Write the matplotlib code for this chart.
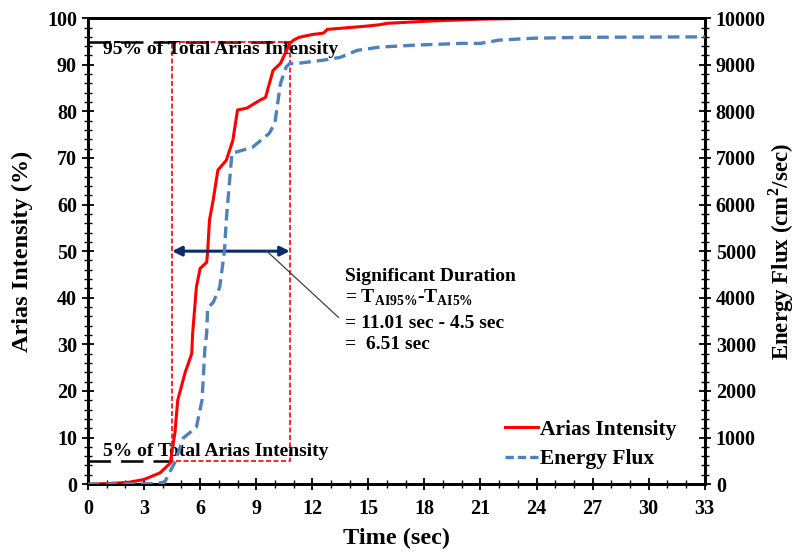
import numpy as np
import matplotlib.pyplot as plt
import matplotlib.ticker as mticker
from matplotlib.lines import Line2D

plt.rcParams['font.family'] = ['Liberation Serif', 'DejaVu Serif']
plt.rcParams['font.weight'] = 'bold'
plt.rcParams['axes.labelweight'] = 'bold'
plt.rcParams['mathtext.fontset'] = 'custom'
plt.rcParams['mathtext.rm'] = 'Liberation Serif:bold'
plt.rcParams['mathtext.bf'] = 'Liberation Serif:bold'

# Arias intensity (%) vs time (sec)
t_ai = [0, 1.0, 2.2, 3.0, 3.85, 4.4, 4.65, 4.8, 5.2, 5.55, 5.6, 5.8, 6.0, 6.35,
        6.4, 6.5, 6.7, 6.95, 7.4, 7.75, 8.0, 8.5, 9.2, 9.5, 9.9, 10.3, 10.8,
        11.0, 11.3, 12.0, 12.6, 12.8, 14.9, 15.6, 16.0, 18.3, 21.0, 24.0, 33.0]
ai = [0, 0.1, 0.4, 1.0, 2.4, 4.5, 11, 18, 24, 28, 32.4, 42.3, 46.3, 47.6,
      49.8, 56.7, 61, 67.4, 69.5, 73.8, 80.3, 80.7, 82.4, 83.0, 88.8, 90.3, 94.6,
      95.3, 95.9, 96.5, 96.8, 97.6, 98.3, 98.6, 98.9, 99.4, 99.8, 100, 100]

# Energy flux (cm^2/sec) vs time (sec)
t_ef = [0, 2.0, 3.5, 4.1, 4.65, 5.1, 5.8, 6.1, 6.25, 6.35, 6.4, 6.7, 7.05, 7.3,
        7.4, 7.7, 8.8, 9.7, 10.0, 10.3, 10.6, 10.8, 11.2, 12.6, 13.5, 14.4,
        15.6, 17.4, 20.0, 21.0, 22.0, 23.8, 26.5, 33.0]
ef = [0, 0, 10, 40, 470, 990, 1220, 1800, 2880, 3240, 3780, 3900, 4230, 5000,
      5670, 7100, 7230, 7530, 7750, 8600, 8950, 9030, 9030, 9100, 9160, 9310,
      9380, 9420, 9460, 9460, 9530, 9570, 9590, 9600]

t5, t95 = 4.5, 10.8

fig = plt.figure(figsize=(8.03, 5.52), dpi=100)
ax = fig.add_axes([0.1096, 0.123, 0.768, 0.844])
ax2 = ax.twinx()

ax.plot(t_ai, ai, color='#ff0000', lw=2.2, zorder=4)
ax2.plot(t_ef, ef, color='#4f81bd', lw=2.4, dashes=(3.5, 1.8), zorder=3)

# reference lines
ax.plot([0, t95], [95, 95], color='black', lw=1.8, dashes=(9, 4), zorder=2)
ax.plot([0, t5], [5, 5], color='black', lw=1.8, dashes=(9, 4), zorder=2)
rect_x = [t5, t5, t95, t95, t5]
rect_y = [5, 95, 95, 5, 5]
ax.plot(rect_x, rect_y, color='#ff0000', lw=1.2, dashes=(3, 1.5), zorder=3)

ax.annotate('', xy=(t5, 50), xytext=(t95, 50),
            arrowprops=dict(arrowstyle='<|-|>', color='#0d2a6b', lw=2.2,
                            mutation_scale=14, shrinkA=0, shrinkB=0), zorder=5)
ax.plot([9.57, 13.4], [50, 35.8], color='#404040', lw=0.9, zorder=5)

fs = 14
ax.text(0.8, 93.2, '95% of Total Arias Intensity', fontsize=fs, va='center')
ax.text(0.8, 7.0, '5% of Total Arias Intensity', fontsize=fs, va='center')
ax.text(13.75, 44.5, 'Significant Duration', fontsize=fs, va='center')
ax.text(13.75, 40.0, r'= T$_{\mathregular{AI95\%}}$-T$_{\mathregular{AI5\%}}$',
        fontsize=fs, va='center')
ax.text(13.75, 34.4, '= 11.01 sec - 4.5 sec', fontsize=fs, va='center')
ax.text(13.75, 30.0, '=  6.51 sec', fontsize=fs, va='center')

ax.set_xlim(0, 33)
ax.set_ylim(0, 100)
ax2.set_ylim(0, 10000)
ax.xaxis.set_major_locator(mticker.MultipleLocator(3))
ax.xaxis.set_minor_locator(mticker.MultipleLocator(1))
ax.yaxis.set_major_locator(mticker.MultipleLocator(10))
ax.yaxis.set_minor_locator(mticker.MultipleLocator(2))
ax2.yaxis.set_major_locator(mticker.MultipleLocator(1000))
ax2.yaxis.set_minor_locator(mticker.MultipleLocator(200))

for a in (ax, ax2):
    a.tick_params(which='major', direction='inout', length=9, width=1.3, labelsize=14.5)
    a.tick_params(which='minor', direction='inout', length=6, width=1.0)
    for s in a.spines.values():
        s.set_linewidth(2.0)
ax.tick_params(axis='x', pad=6)

ax.set_xlabel('Time (sec)', fontsize=17.5)
ax.xaxis.set_label_coords(0.5, -0.094)
ax.set_ylabel('Arias Intensity (%)', fontsize=17.5)
ax.yaxis.set_label_coords(-0.09, 0.5)
ax2.set_ylabel('Energy Flux (cm$^{\\mathregular{2}}$/sec)', fontsize=16.5,
               rotation=90)
ax2.yaxis.set_label_coords(1.1, 0.5)

handles = [Line2D([], [], color='#ff0000', lw=2.2),
           Line2D([], [], color='#4f81bd', lw=2.4, dashes=(2.5, 1.2))]
ax.legend(handles, ['Arias Intensity', 'Energy Flux'], loc='lower right',
          bbox_to_anchor=(0.985, -0.01), frameon=False, fontsize=15.5,
          handlelength=1.5, handletextpad=0.1, labelspacing=0.45)

fig.savefig('out.png', dpi=100)
